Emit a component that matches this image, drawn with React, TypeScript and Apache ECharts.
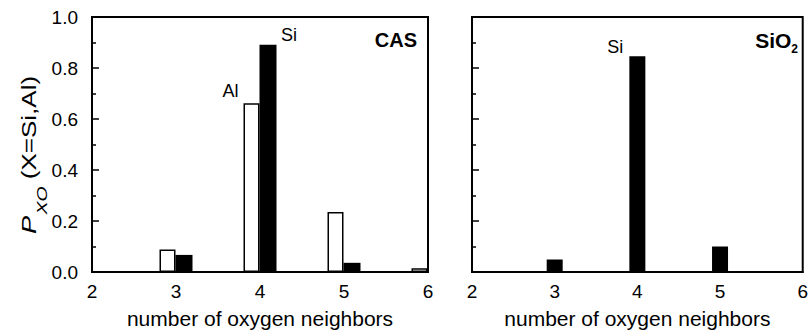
import React, { useEffect, useRef } from "react";
import * as echarts from "echarts";

const xTicks = [2, 3, 4, 5, 6];
const casAlX = [3, 4, 5, 6];
const casAlY = [0.088, 0.662, 0.235, 0.015];
const casSiX = [3, 4, 5];
const casSiY = [0.067, 0.891, 0.036];
const sio2SiX = [3, 4, 5];
const sio2SiY = [0.049, 0.846, 0.1];

const FONT = "Liberation Sans, Arial, Helvetica, sans-serif";

export default function App() {
  const ref = useRef<HTMLDivElement>(null);
  useEffect(() => {
    if (!ref.current) return;
    const chart = echarts.init(ref.current, undefined, { renderer: "svg" });
    const gridTop = 17;
    const gridH = 258;
    const axisCommon = (idx: number, showLabels: boolean) => ({
      type: "value",
      gridIndex: idx,
      min: 0,
      max: 1,
      interval: 0.2,
      axisLine: { show: true, lineStyle: { color: "#000", width: 2 } },
      axisTick: { show: true, inside: true, length: 7, lineStyle: { color: "#000", width: 1.5 } },
      minorTick: { show: true, splitNumber: 2, length: 4, lineStyle: { color: "#000", width: 1.5 } },
      splitLine: { show: false },
      axisLabel: {
        show: showLabels,
        margin: 14,
        fontSize: 19,
        color: "#000",
        fontFamily: FONT,
        formatter: (v: number) => v.toFixed(1),
      },
    });
    const xAxisCommon = (idx: number) => ({
      type: "value",
      gridIndex: idx,
      min: xTicks[0],
      max: xTicks[xTicks.length - 1],
      interval: 1,
      axisLine: { show: true, onZero: false, lineStyle: { color: "#000", width: 2 } },
      axisTick: { show: false },
      splitLine: { show: false },
      axisLabel: { margin: 10, fontSize: 19, color: "#000", fontFamily: FONT },
      name: "number of oxygen neighbors",
      nameLocation: "middle",
      nameGap: 36,
      nameTextStyle: { fontSize: 21, color: "#000", fontFamily: FONT },
    });
    const topLabel = (text: string, offset: number[]) => ({
      show: true,
      position: "top",
      distance: 3,
      offset,
      formatter: text,
      fontSize: 18,
      color: "#000",
      fontFamily: FONT,
    });
    const alData = casAlX.map((x, i) =>
      x === 4
        ? { value: [x, casAlY[i]], label: topLabel("Al", [-21, 0]) }
        : { value: [x, casAlY[i]] }
    );
    const siData = casSiX.map((x, i) =>
      x === 4
        ? { value: [x, casSiY[i]], label: topLabel("Si", [21, 2]) }
        : { value: [x, casSiY[i]] }
    );
    const sio2Data = sio2SiX.map((x, i) =>
      x === 4
        ? { value: [x, sio2SiY[i]], label: topLabel("Si", [-22, 3]) }
        : { value: [x, sio2SiY[i]] }
    );
    chart.setOption({
      animation: false,
      backgroundColor: "#fff",
      grid: [
        { left: 92, top: gridTop, width: 336, height: gridH, show: true, borderColor: "#000", borderWidth: 2, backgroundColor: "transparent" },
        { left: 472, top: gridTop, width: 335, height: gridH, show: true, borderColor: "#000", borderWidth: 2, backgroundColor: "transparent" },
      ],
      xAxis: [xAxisCommon(0), xAxisCommon(1)],
      yAxis: [axisCommon(0, true), axisCommon(1, false)],
      series: [
        {
          type: "bar",
          name: "Al",
          xAxisIndex: 0,
          yAxisIndex: 0,
          barWidth: 16,
          barGap: "0%",
          itemStyle: { color: "#fff", borderColor: "#000", borderWidth: 1.5 },
          data: alData,
        },
        {
          type: "bar",
          name: "Si",
          xAxisIndex: 0,
          yAxisIndex: 0,
          barWidth: 17,
          barGap: "0%",
          itemStyle: { color: "#000" },
          data: siData,
        },
        {
          type: "bar",
          name: "Si (SiO2)",
          xAxisIndex: 1,
          yAxisIndex: 1,
          barWidth: 16,
          itemStyle: { color: "#000" },
          data: sio2Data,
        },
      ],
      graphic: [
        {
          type: "text",
          x: 26,
          y: 155,
          rotation: Math.PI / 2,
          scaleX: 1.3,
          style: {
            text: "{p|P}{s|XO}{n| (X=Si,Al)}",
            align: "center",
            verticalAlign: "middle",
            fill: "#000",
            fontFamily: FONT,
            rich: {
              p: { fontSize: 21, fontStyle: "italic", fontFamily: FONT, fill: "#000", lineHeight: 26, verticalAlign: "bottom" },
              s: { fontSize: 15, fontStyle: "italic", fontFamily: FONT, fill: "#000", lineHeight: 26, verticalAlign: "bottom", padding: [0, 0, -10, 1] },
              n: { fontSize: 20, fontFamily: FONT, fill: "#000", lineHeight: 26, verticalAlign: "bottom" },
            },
          },
        },
        {
          type: "text",
          right: 811 - 417,
          top: 30,
          style: { text: "CAS", fontSize: 20, fontWeight: "bold", fill: "#000", fontFamily: FONT },
        },
        {
          type: "text",
          right: 811 - 798,
          top: 30,
          style: {
            text: "{a|SiO}{b|2}",
            fill: "#000",
            fontFamily: FONT,
            rich: {
              a: { fontSize: 21, fontWeight: "bold", fontFamily: FONT, lineHeight: 22, verticalAlign: "bottom" },
              b: { fontSize: 12, fontWeight: "bold", fontFamily: FONT, lineHeight: 22, verticalAlign: "bottom", padding: [0, 0, -4, 0] },
            },
          },
        },
      ],
    });
    return () => chart.dispose();
  }, []);
  return (
    <div
      ref={ref}
      style={{ position: "fixed", left: 0, top: 0, width: 811, height: 334 }}
    />
  );
}
